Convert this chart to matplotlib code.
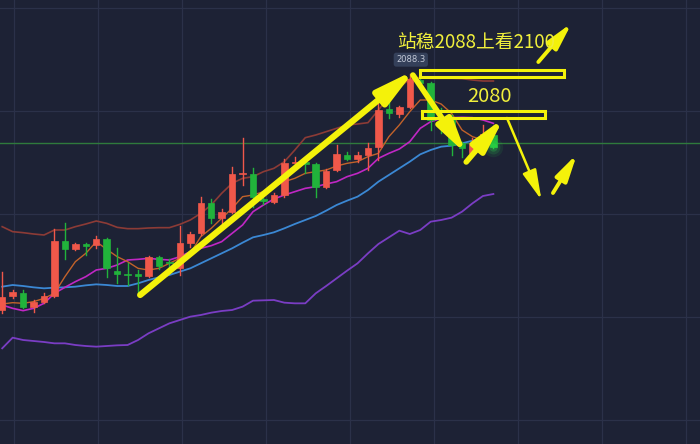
import numpy as np
import matplotlib
matplotlib.use("Agg")
import matplotlib.pyplot as plt
from matplotlib.patches import Rectangle, FancyArrowPatch

plt.rcParams['font.family'] = ['Noto Sans CJK SC', 'DejaVu Sans']

# candles (red = up, green = down)
opens = [2017.5, 2021.7, 2022.7, 2018.5, 2020.0, 2021.7, 2038.2, 2035.7, 2037.2, 2037.0,
         2038.7, 2029.2, 2028.3, 2028.1, 2027.7, 2033.3, 2032.0, 2030.0, 2037.7, 2040.5,
         2049.7, 2045.0, 2047.0, 2058.3, 2058.3, 2050.8, 2050.0, 2052.0, 2061.6, 2061.8,
         2061.2, 2054.3, 2059.5, 2064.0, 2062.7, 2064.0, 2066.5, 2077.7, 2076.3, 2078.5,
         2086.5, 2085.5, 2074.0, 2075.5, 2067.5, 2064.7, 2067.7, 2070.0]
closes = [2021.5, 2023.0, 2018.5, 2020.0, 2021.7, 2038.2, 2035.7, 2037.2, 2036.8, 2038.7,
          2030.0, 2028.2, 2027.9, 2027.8, 2033.5, 2030.8, 2031.5, 2037.7, 2040.2, 2049.7,
          2045.0, 2047.0, 2058.2, 2058.6, 2051.5, 2050.2, 2052.0, 2061.7, 2062.0, 2061.2,
          2054.5, 2059.2, 2064.2, 2062.7, 2064.0, 2066.2, 2077.5, 2076.5, 2078.3, 2086.7,
          2085.7, 2074.5, 2073.5, 2067.0, 2066.0, 2067.7, 2070.2, 2066.5]
highs = [2029.0, 2023.5, 2023.5, 2020.5, 2022.5, 2041.7, 2043.7, 2037.5, 2037.5, 2039.7,
         2039.0, 2036.0, 2031.5, 2029.5, 2033.7, 2033.7, 2032.7, 2042.7, 2041.0, 2051.5,
         2050.7, 2047.7, 2060.5, 2069.0, 2060.0, 2051.0, 2052.7, 2062.7, 2063.5, 2063.5,
         2061.5, 2059.7, 2067.0, 2065.0, 2065.0, 2067.5, 2080.0, 2082.5, 2078.7, 2088.3,
         2087.5, 2086.0, 2078.0, 2076.0, 2068.0, 2069.0, 2073.0, 2070.5]
lows = [2016.5, 2021.0, 2018.0, 2017.0, 2019.5, 2021.5, 2032.7, 2035.5, 2034.0, 2036.0,
        2027.5, 2025.5, 2025.0, 2022.5, 2027.5, 2029.7, 2030.5, 2028.0, 2036.5, 2040.0,
        2043.5, 2043.5, 2046.5, 2055.0, 2048.5, 2049.3, 2049.5, 2051.5, 2060.0, 2058.5,
        2051.5, 2054.0, 2059.3, 2062.5, 2062.0, 2059.5, 2062.5, 2075.0, 2075.5, 2078.0,
        2084.5, 2071.5, 2070.5, 2064.0, 2063.5, 2064.5, 2067.3, 2066.0]

# indicator lines
boll_upper = [2042.5, 2041.0, 2040.7, 2040.3, 2040.0, 2041.5, 2041.5, 2042.5, 2043.3, 2044.2,
              2043.5, 2042.3, 2041.9, 2041.9, 2042.1, 2042.2, 2042.2, 2043.2, 2044.5, 2046.5,
              2049.0, 2052.5, 2055.5, 2057.0, 2057.5, 2059.0, 2060.0, 2062.0, 2065.5, 2069.2,
              2070.0, 2071.0, 2072.0, 2073.0, 2073.3, 2073.7, 2077.5, 2081.5, 2084.3, 2086.8,
              2087.3, 2087.0, 2087.0, 2087.0, 2086.9, 2086.5, 2086.2, 2086.2]
boll_mid = [2024.5, 2025.0, 2024.7, 2024.3, 2024.0, 2024.2, 2024.3, 2024.5, 2024.9, 2025.2,
            2025.0, 2024.7, 2024.7, 2025.5, 2026.5, 2027.3, 2028.0, 2029.0, 2030.0, 2031.5,
            2033.0, 2034.5, 2036.0, 2037.7, 2039.3, 2040.0, 2040.8, 2042.0, 2043.3, 2044.5,
            2045.7, 2047.3, 2049.0, 2050.3, 2051.5, 2053.5, 2056.0, 2058.0, 2060.0, 2062.0,
            2064.2, 2065.5, 2066.5, 2066.8, 2067.5, 2068.3, 2069.2, 2069.7]
boll_lower = [2006.0, 2009.2, 2008.5, 2008.2, 2007.9, 2007.5, 2007.5, 2007.0, 2006.7, 2006.5,
              2006.7, 2006.9, 2007.0, 2008.5, 2010.5, 2012.0, 2013.5, 2014.5, 2015.5, 2016.0,
              2016.7, 2017.2, 2017.5, 2018.5, 2020.3, 2020.4, 2020.5, 2019.7, 2019.5, 2019.5,
              2022.5, 2024.7, 2027.0, 2029.3, 2031.5, 2034.5, 2037.3, 2039.3, 2041.3, 2040.3,
              2041.5, 2044.0, 2044.5, 2045.2, 2047.0, 2049.5, 2051.7, 2052.3]
ma_fast = [2019.3, 2019.7, 2019.5, 2020.0, 2021.0, 2022.5, 2027.5, 2032.0, 2034.5, 2038.0,
           2035.7, 2033.5, 2032.0, 2030.0, 2029.5, 2030.0, 2031.5, 2033.0, 2034.5, 2039.5,
           2042.0, 2045.0, 2048.0, 2051.5, 2052.0, 2053.0, 2054.5, 2056.0, 2057.0, 2058.5,
           2059.0, 2059.5, 2060.7, 2061.5, 2062.0, 2063.5, 2064.5, 2069.5, 2073.0, 2077.0,
           2080.5, 2080.5, 2079.3, 2076.5, 2071.5, 2069.5, 2068.5, 2067.0]
ma_slow = [2019.0, 2018.0, 2017.3, 2018.0, 2019.5, 2022.5, 2024.3, 2026.0, 2027.5, 2029.5,
           2030.0, 2031.0, 2032.5, 2032.7, 2033.0, 2032.7, 2032.5, 2033.5, 2035.0, 2036.0,
           2036.8, 2038.0, 2040.5, 2043.0, 2047.0, 2049.0, 2050.8, 2052.0, 2053.0, 2054.0,
           2054.5, 2055.3, 2056.0, 2057.5, 2058.5, 2060.0, 2063.0, 2064.5, 2065.8, 2068.0,
           2072.0, 2074.0, 2075.0, 2075.2, 2075.3, 2075.2, 2074.5, 2073.5]

level_line = 2067.6
peak_label = "2088.3"
title_text = "站稳2088上看2100"
level_text = "2080"

# yellow hand-drawn arrows: (x0, y0, x1, y1, shaft width, head scale)
arrows = [
    (13.2, 2022.0, 39.5, 2089.5, 4.5, 1.0),
    (39.3, 2088.0, 44.4, 2064.3, 4.0, 0.9),
    (44.4, 2061.9, 48.0, 2075.1, 4.0, 0.9),
    (48.3, 2075.1, 51.6, 2050.5, 1.8, 0.8),
    (52.7, 2052.6, 55.0, 2064.3, 2.8, 0.7),
    (51.3, 2091.9, 54.5, 2103.6, 2.8, 0.7),
]
# hollow yellow bars: (x0, x1, y_low, y_high)
boxes = [(40.0, 53.8, 2087.4, 2089.5), (40.2, 51.9, 2075.1, 2077.2)]

bg = '#1d2235'
up_col = '#f0584a'
down_col = '#21b33b'

fig = plt.figure(figsize=(7, 4.44), dpi=100)
fig.patch.set_facecolor(bg)
ax = fig.add_axes([0, 0, 1, 1])
ax.set_facecolor(bg)
ax.set_xlim(-0.21, 66.77)
ax.set_ylim(1977.3, 2110.5)
ax.axis('off')

# faint grid
for gx in np.arange(1.12, 67, 8.04):
    ax.axvline(gx, color='#2b3149', lw=0.9, zorder=0)
for gy in np.arange(2108.1, 1977, -30.9):
    ax.axhline(gy, color='#2b3149', lw=0.9, zorder=0)

ax.axhline(level_line, color='#2f7a3c', lw=1.0, zorder=1)

idx = np.arange(len(opens))
ax.plot(idx, boll_upper, color='#8c3b36', lw=1.2, zorder=2)
ax.plot(idx, boll_mid, color='#3b88d4', lw=1.3, zorder=2)
ax.plot(idx, boll_lower, color='#7a3dc4', lw=1.3, zorder=2)
ax.plot(idx, ma_slow, color='#c027c4', lw=1.2, zorder=2)
ax.plot(idx, ma_fast, color='#c2622a', lw=1.0, zorder=2)

w = 0.62
for i in idx:
    o, c, h, l = opens[i], closes[i], highs[i], lows[i]
    col = up_col if c >= o else down_col
    ax.plot([i, i], [l, h], color=col, lw=1.0, zorder=3)
    bot = min(o, c)
    ht = max(abs(c - o), 0.35)
    ax.add_patch(Rectangle((i - w / 2, bot), w, ht, facecolor=col, edgecolor=col, lw=0.5, zorder=4))

# glow on the last candle
last = idx[-1]
for r, a in [(14, 0.08), (10, 0.12), (6, 0.2)]:
    ax.scatter([last], [closes[-1]], s=r ** 2, color='#33ff55', alpha=a, lw=0, zorder=5)

# peak label
ax.text(39.1, 2092.6, peak_label, fontsize=6, color='#c2c8d6', ha='center', va='center',
        family=['DejaVu Sans'], zorder=6,
        bbox=dict(boxstyle='round,pad=0.3', fc='#34405a', ec='none'))

for x0, x1, y0, y1 in boxes:
    ax.add_patch(Rectangle((x0, y0), x1 - x0, y1 - y0, facecolor='none',
                           edgecolor='#f4f20a', lw=2.2, zorder=6))

for x0, y0, x1, y1, lw, hs in arrows:
    arr = FancyArrowPatch((x0, y0), (x1, y1),
                          arrowstyle='-|>,head_length=%.2f,head_width=%.2f' % (1.9 * hs, 0.45 * hs),
                          mutation_scale=12, lw=lw, color='#f4f20a',
                          shrinkA=0, shrinkB=0, zorder=7)
    ax.add_patch(arr)

ax.text(45.3, 2097.8, title_text, fontsize=13.5, color='#f0ef3c', ha='center', va='center', zorder=8)
ax.text(46.6, 2081.7, level_text, fontsize=14.5, color='#f0ef3c', ha='center', va='center', zorder=8)

fig.savefig('out.png', dpi=100, facecolor=bg)
